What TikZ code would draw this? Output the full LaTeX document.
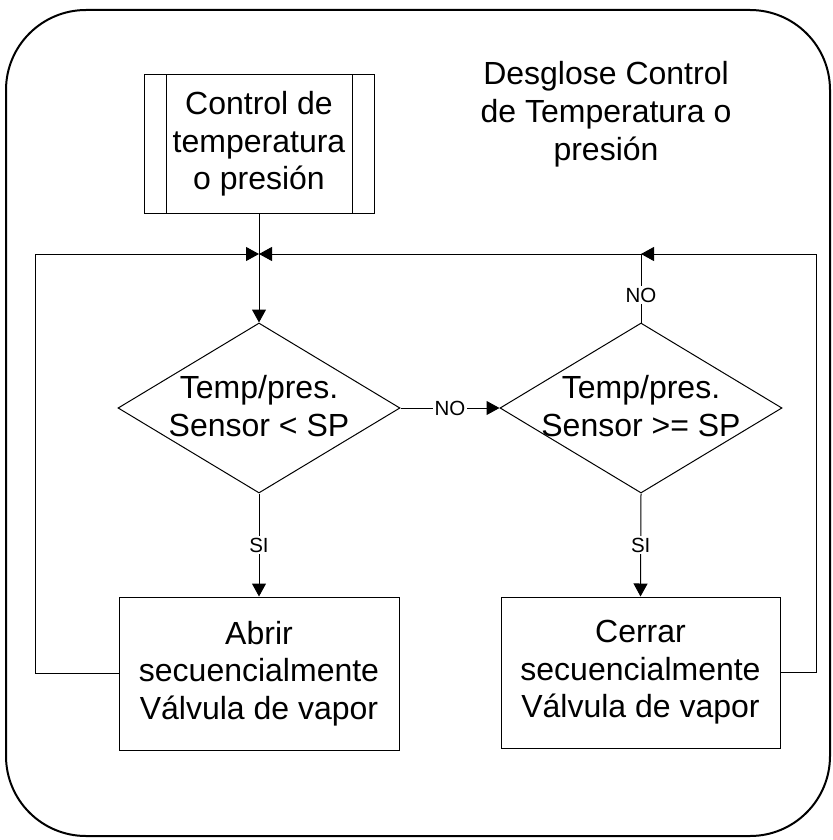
\documentclass[tikz,border=0pt]{standalone}
\usepackage{fontspec}
\setmainfont{Liberation Sans}
\usetikzlibrary{shapes.geometric,arrows.meta,calc}
\begin{document}
\begin{tikzpicture}[x=1pt,y=-1pt,
  every node/.style={font=\fontsize{32}{37.5}\selectfont},
  line/.style={draw=black,line width=1pt},
  flow/.style={line,-{Triangle[length=13pt,width=14pt]}},
  procbox/.style={draw=black,line width=1pt,rectangle,inner sep=0pt,align=center},
  decision/.style={draw=black,line width=1pt,diamond,inner sep=0pt},
  lbl/.style={fill=white,inner sep=1.5pt,font=\fontsize{20.5}{24}\selectfont},
  txt/.style={align=center,inner sep=0pt}
]
\useasboundingbox (0,0) rectangle (832,840);
% outer frame
\draw[line width=2pt,rounded corners=80pt] (6,10) rectangle (830,836);

% predefined process: entry point
\node[procbox,minimum width=230pt,minimum height=138pt] (ctrl) at (259,144)
  {Control de\\temperatura\\o presión};
\draw[line] ($(ctrl.north west)+(23,0)$) -- ($(ctrl.south west)+(23,0)$);
\draw[line] ($(ctrl.north east)+(-22,0)$) -- ($(ctrl.south east)+(-22,0)$);

% title (base anchor = baseline of the last line)
\node[txt,anchor=base] (title) at (606,160)
  {Desglose Control\\de Temperatura o\\presión};

% decisions
\node[decision,minimum width=282pt,minimum height=170pt] (d1) at (259,408) {};
\node[txt,anchor=base] (d1t) at (259,436) {Temp/pres.\\Sensor < SP};
\node[decision,minimum width=282pt,minimum height=170pt] (d2) at (641,408) {};
\node[txt,anchor=base] (d2t) at (641,436) {Temp/pres.\\Sensor >= SP};

% actions
\node[procbox,minimum width=280pt,minimum height=153pt] (open) at (259,673.5)
  {Abrir\\secuencialmente\\Válvula de vapor};
\node[procbox,minimum width=279pt,minimum height=151pt] (close) at (640.5,672.5)
  {Cerrar\\secuencialmente\\Válvula de vapor};

% junctions and feedback corners
\coordinate (j1) at (259,254);
\coordinate (j2) at (641,254);
\coordinate (lft) at (35,254);
\coordinate (rgt) at (816,254);

% connectors
\draw[flow] (ctrl.south) -- (d1.north);
\draw[flow] (d1.east) -- node[lbl]{NO} (d2.west);
\draw[flow] (d1.south) -- node[lbl]{SI} (open.north);
\draw[flow] (d2.south) -- node[lbl]{SI} (close.north);
\draw[flow] (d2.north) -- node[lbl,pos=0.4]{NO} (j2) -- (j1);
\draw[flow] (open.west) -| (lft) -- (j1);
\draw[flow] (close.east) -| (rgt) -- (j2);
\end{tikzpicture}
\end{document}
